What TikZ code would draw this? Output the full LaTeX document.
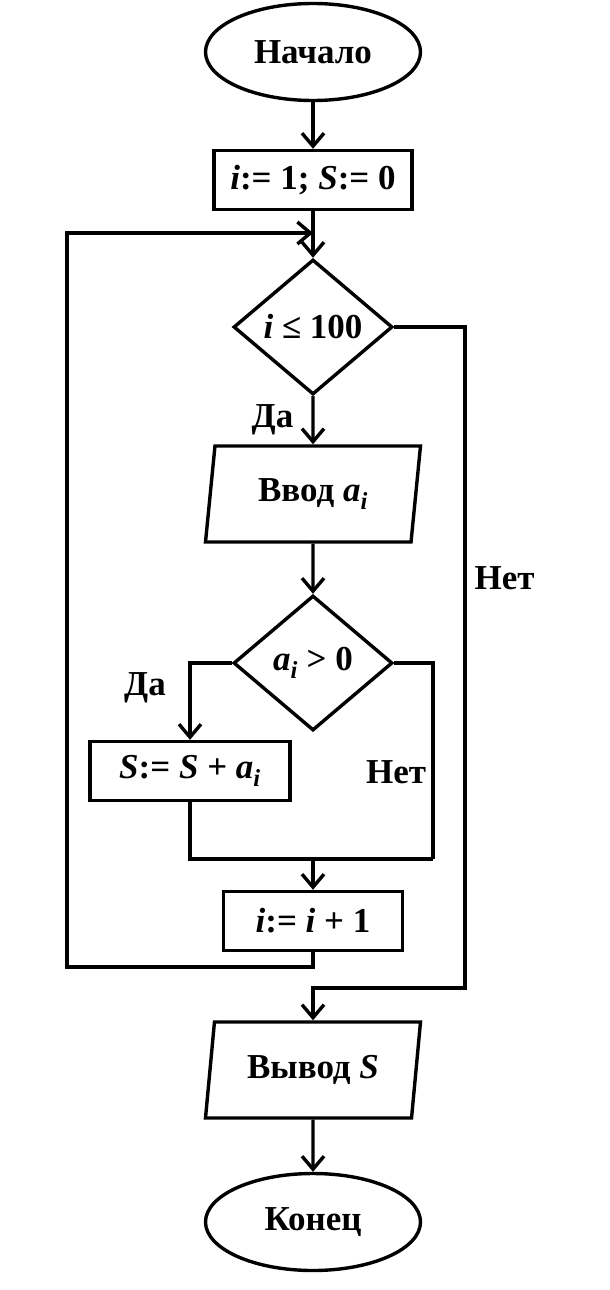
\documentclass[tikz,border=0pt]{standalone}
\usepackage{fontspec}
\setmainfont{Liberation Serif}
\usetikzlibrary{shapes.geometric}
\usetikzlibrary{arrows.meta}

\begin{document}
\begin{tikzpicture}[x=1pt, y=-1pt,
            line width=3.4pt,
            >={Straight Barb[length=13pt,width=22pt]},
            every node/.style = {font=\fontsize{35}{40}\selectfont\bfseries},
            term/.style = {draw, ellipse, minimum width=215pt, minimum height=97pt},
            proc/.style = {draw, rectangle, minimum height=59pt, inner sep=0pt},
            cond/.style = {draw, diamond, minimum width=159pt, minimum height=135pt, inner sep=0pt},
            io/.style = {draw, trapezium, trapezium left angle=76, trapezium right angle=104,
                         minimum width=215pt, minimum height=96pt, trapezium stretches body},
            lbl/.style = {inner sep=0pt}
            ]
            \useasboundingbox (0,0) rectangle (610,1290);
            \node[term] (start) at (313,52) {Начало};
            \node[proc, minimum width=198pt] (init) at (313,180) {\textit{i}:= 1; \textit{S}:= 0};
            \node[cond] (cond1) at (313,327) {\textit{i} ≤ 100};
            \node[io] (input) at (313,494) {Ввод \textit{a\textsubscript{i}}};
            \node[cond] (cond2) at (313,663) {\textit{a\textsubscript{i}} > 0};
            \node[proc, minimum width=200pt] (sum) at (190,771) {\textit{S}:= \textit{S} + \textit{a\textsubscript{i}}};
            \node[proc, minimum width=179pt] (incr) at (313,921) {\textit{i}:= \textit{i} + 1};
            \node[io] (output) at (313,1070) {Вывод \textit{S}};
            \node[term] (stop) at (313,1222) {Конец};

            \coordinate (join) at (313,233);
            \coordinate (loopL) at (67,967);
            \coordinate (exitR) at (465,988);
            \coordinate (mergeR) at (433,859);
            \coordinate (merge) at (313,859);

            \draw[->] (start) -- (init);
            \draw[->] (init) -- (cond1);
            \draw[->] (incr.south) |- (loopL) |- (join);
            \draw[->] (cond1.south) -- node[lbl, left=18pt] (yes1) {Да} (input.north);
            \draw[->] (cond1.east) -| (exitR) -| (output.north);
            \node[lbl, anchor=west] (no1) at (473,578) {Нет};
            \draw[->] (input) -- (cond2);
            \draw[->] (cond2.west) -| (sum.north);
            \node[lbl] (yes2) at (145,688) {Да};
            \draw (cond2.east) -| (mergeR);
            \draw (sum.south) |- (mergeR);
            \node[lbl] (no2) at (396,772) {Нет};
            \draw[->] (merge) -- (incr.north);
            \draw[->] (output) -- (stop);
        \end{tikzpicture}
\end{document}
